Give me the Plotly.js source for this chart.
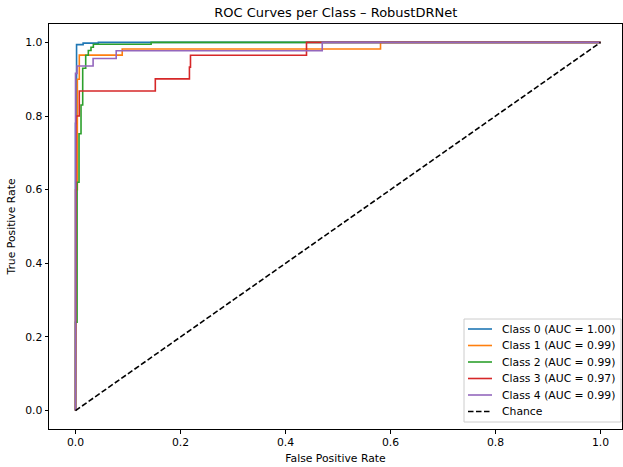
<!DOCTYPE html>
<html>
<head>
<meta charset="utf-8">
<script src="https://cdn.plot.ly/plotly-3.0.1.min.js"></script>
<style>html,body{margin:0;padding:0;background:#fff}#chart{width:623px;height:467px}</style>
</head>
<body>
<div id="chart"></div>
<script>
// Series names
const classNames = ["Class 0 (AUC = 1.00)", "Class 1 (AUC = 0.99)", "Class 2 (AUC = 0.99)", "Class 3 (AUC = 0.97)", "Class 4 (AUC = 0.99)"];
const chanceName = "Chance";

// ROC points (FPR, TPR)
const fpr0 = [0, 0, 0.002, 0.002, 0.0145, 0.0145, 0.0435, 0.0435, 1];
const tpr0 = [0, 0.78, 0.78, 0.994, 0.994, 0.998, 0.998, 1.0, 1.0];

const fpr1 = [0, 0, 0.0035, 0.0035, 0.0072, 0.0072, 0.089, 0.089, 0.581, 0.581, 1];
const tpr1 = [0, 0.60, 0.60, 0.90, 0.90, 0.9655, 0.9655, 0.982, 0.982, 1.0, 1.0];

const fpr2 = [0, 0, 0.003, 0.003, 0.0067, 0.0067, 0.0105, 0.0105, 0.0137, 0.0137, 0.0194, 0.0194, 0.0244, 0.0244, 0.0295, 0.0295, 0.034, 0.034, 0.144, 0.144, 1];
const tpr2 = [0, 0.24, 0.24, 0.62, 0.62, 0.752, 0.752, 0.83, 0.83, 0.93, 0.93, 0.965, 0.965, 0.978, 0.978, 0.987, 0.987, 0.995, 0.995, 1.0, 1.0];

const fpr3 = [0, 0, 0.001, 0.001, 0.0072, 0.0072, 0.152, 0.152, 0.217, 0.217, 0.219, 0.219, 0.44, 0.44, 1];
const tpr3 = [0, 0.467, 0.467, 0.80, 0.80, 0.868, 0.868, 0.901, 0.901, 0.933, 0.933, 0.965, 0.965, 1.0, 1.0];

const fpr4 = [0, 0, 0.003, 0.003, 0.0335, 0.0335, 0.0775, 0.0775, 0.47, 0.47, 1];
const tpr4 = [0, 0.916, 0.916, 0.936, 0.936, 0.9565, 0.9565, 0.9774, 0.9774, 1.0, 1.0];

const chanceX = [0, 1];
const chanceY = [0, 1];

const xTicks = [0, 0.2, 0.4, 0.6, 0.8, 1.0];
const yTicks = [0, 0.2, 0.4, 0.6, 0.8, 1.0];

const colors = ["#1f77b4", "#ff7f0e", "#2ca02c", "#d62728", "#9467bd"];
const fprs = [fpr0, fpr1, fpr2, fpr3, fpr4];
const tprs = [tpr0, tpr1, tpr2, tpr3, tpr4];

const W = 623, H = 467;
const M = {l: 49, r: 1, t: 24, b: 38};
const PW = W - M.l - M.r, PH = H - M.t - M.b;
const px = v => (v - M.l) / PW;        // pixel x -> paper x
const py = v => (H - M.b - v) / PH;    // pixel y -> paper y

const traces = fprs.map((fx, i) => ({
  x: fx, y: tprs[i], type: "scatter", mode: "lines", name: classNames[i],
  line: {color: colors[i], width: 1.6}
}));
traces.push({
  x: chanceX, y: chanceY, type: "scatter", mode: "lines", name: chanceName,
  line: {color: "#000000", width: 1.6, dash: "5.5px,2.5px"}
});

const font = {family: "DejaVu Sans, sans-serif", size: 10.8, color: "#000"};

// Legend drawn as shapes + annotations (matplotlib-like compact spacing)
const legNames = classNames.concat([chanceName]);
const legColors = colors.concat(["#000000"]);
const legTop = 329, legStep = 16.5;
const shapes = [{
  type: "rect", xref: "paper", yref: "paper", layer: "above",
  x0: px(464), x1: px(621), y0: py(422), y1: py(319),
  fillcolor: "rgba(255,255,255,0.8)", line: {color: "#cccccc", width: 1}
}];
const annotations = [];
legNames.forEach((n, i) => {
  const yy = legTop + i * legStep;
  shapes.push({
    type: "line", xref: "paper", yref: "paper", layer: "above",
    x0: px(468), x1: px(492), y0: py(yy), y1: py(yy),
    line: {color: legColors[i], width: 1.6, dash: i === 5 ? "5.5px,2.5px" : "solid"}
  });
  annotations.push({
    text: n, xref: "paper", yref: "paper", x: px(500), y: py(yy),
    xanchor: "left", yanchor: "middle", showarrow: false, font: font
  });
});

const layout = {
  width: W, height: H,
  margin: {l: M.l, r: M.r, t: M.t, b: M.b, pad: 0},
  paper_bgcolor: "#fff", plot_bgcolor: "#fff",
  font: font,
  title: {text: "ROC Curves per Class – RobustDRNet", font: {family: "DejaVu Sans, sans-serif", size: 13, color: "#000"}, x: 0.539, xanchor: "center", y: 0.973, yanchor: "middle"},
  xaxis: {
    range: [-0.0505, 1.041], tickvals: xTicks, tickformat: ".1f",
    showgrid: false, zeroline: false, showline: true, mirror: true, linecolor: "#000", linewidth: 1,
    ticks: "outside", ticklen: 3.5, tickcolor: "#000", tickwidth: 1,
    title: {text: "False Positive Rate", font: font, standoff: 5}
  },
  yaxis: {
    range: [-0.05, 1.05], tickvals: yTicks, tickformat: ".1f",
    showgrid: false, zeroline: false, showline: true, mirror: true, linecolor: "#000", linewidth: 1,
    ticks: "outside", ticklen: 3.5, tickcolor: "#000", tickwidth: 1,
    title: {text: "True Positive Rate", font: font, standoff: 7}
  },
  showlegend: false,
  shapes: shapes,
  annotations: annotations
};
Plotly.newPlot("chart", traces, layout, {displayModeBar: false, staticPlot: true});
</script>
</body>
</html>
